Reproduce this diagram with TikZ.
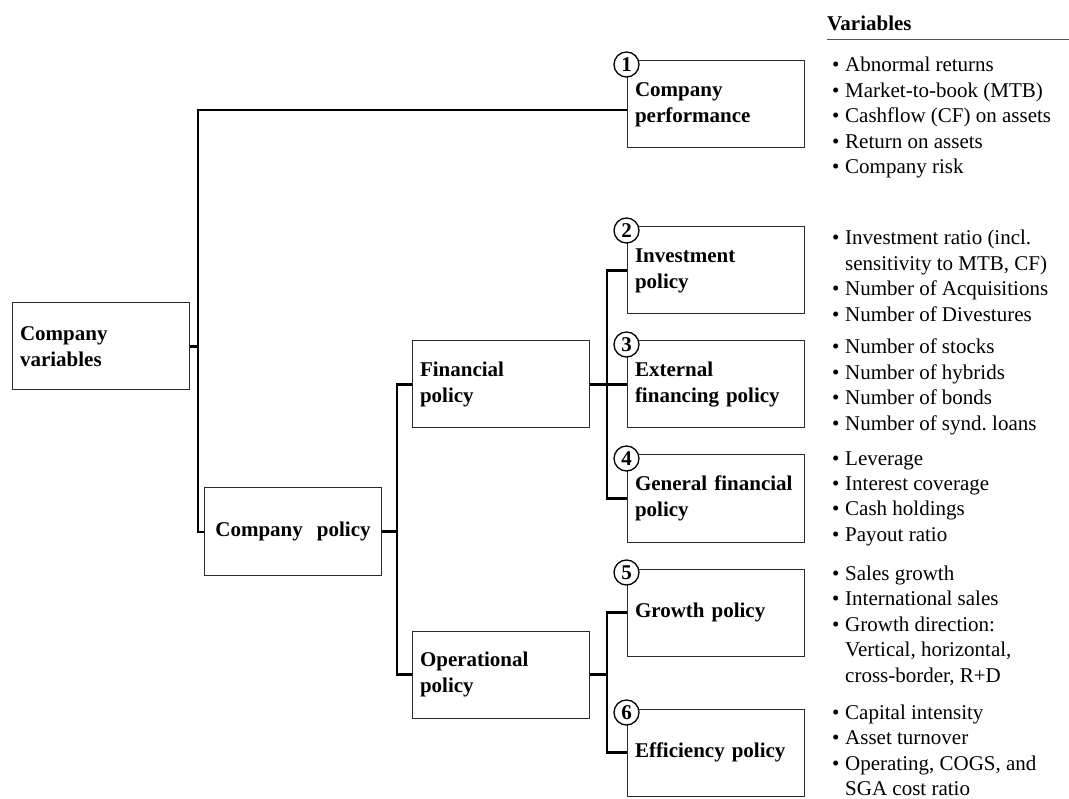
\documentclass[tikz,border=0pt]{standalone}
\usepackage{fontspec}
\setmainfont{Liberation Serif}
\usetikzlibrary{positioning,calc}
\definecolor{ink}{HTML}{000000}
\definecolor{edge}{HTML}{2B2B2B}
\definecolor{rule}{HTML}{555555}
\newcommand{\itm}{\makebox[13pt][l]{\textbullet}}
\newcommand{\cont}{\hspace*{13pt}}

\begin{document}
\begin{tikzpicture}[x=1pt,y=-1pt,
  box/.style={draw=edge,line width=1pt,fill=white,minimum width=177pt,minimum height=87pt,inner xsep=8pt,text width=161pt,align=left,font=\fontsize{21}{26}\selectfont\bfseries},
  num/.style={circle,draw=ink,line width=1.3pt,fill=white,minimum size=25pt,inner sep=0pt,font=\fontsize{21}{21}\selectfont\bfseries},
  conn/.style={ink,line width=2.8pt},
  vlist/.style={anchor=base west,inner sep=0pt,align=left,font=\fontsize{21}{25.5}\selectfont}]
\useasboundingbox (0,0) rectangle (1069,799);

% tree boxes
\node[box] (cv) at (100.5,346.5){Company\\variables};
\node[box,align=center] (cp) at (293,531.5){Company~~policy};
\node[box] (fin) at (500.5,384.5){Financial\\policy};
\node[box] (op) at (500.5,674.5){Operational\\policy};
\node[box] (perf) at (715.5,104.5){Company\\performance};
\node[box] (inv) at (715.5,270.5){Investment\\policy};
\node[box] (ext) at (715.5,384.5){External\\financing policy};
\node[box] (gen) at (715.5,498.5){General financial\\policy};
\node[box] (gro) at (715.5,612.5){Growth policy};
\node[box] (eff) at (715.5,752.5){Efficiency policy};

% connectors
\coordinate (t1) at (198,110);
\coordinate (t2) at (198,532);
\coordinate (t3) at (397,0);
\coordinate (t4) at (607,0);
\draw[conn] (perf.west |- t1) -- (t1) -- (t2) -- (cp.west |- t2);
\draw[conn] (cv.east) -- (cv.east -| t1);
\draw[conn] (cp.east) -- (cp.east -| t3);
\draw[conn] (fin.west) -- (fin.west -| t3) -- (op.west -| t3) -- (op.west);
\draw[conn] (fin.east) -- (ext.west);
\draw[conn] (inv.west) -- (inv.west -| t4) -- (gen.west -| t4) -- (gen.west);
\draw[conn] (op.east) -- (op.east -| t4);
\draw[conn] (gro.west) -- (gro.west -| t4) -- (eff.west -| t4) -- (eff.west);

% numbers
\node[num,yshift=-4pt] (n1) at (perf.north west){1};
\node[num,yshift=-4pt] (n2) at (inv.north west){2};
\node[num,yshift=-4pt] (n3) at (ext.north west){3};
\node[num,yshift=-4pt] (n4) at (gen.north west){4};
\node[num,yshift=-4pt] (n5) at (gro.north west){5};
\node[num,yshift=-4pt] (n6) at (eff.north west){6};

% variables column (placed by the baseline of the last line)
\node[anchor=base west,inner sep=0pt,font=\fontsize{21}{25}\selectfont\bfseries] (vars) at (827,31){Variables};
\coordinate (rr) at (1069,40);
\draw[rule,line width=1pt] (vars.base west |- rr) -- (rr);

\node[vlist] (v1) at (832,174){\itm Abnormal returns\\\itm Market-to-book (MTB)\\\itm Cashflow (CF) on assets\\\itm Return on assets\\\itm Company risk};
\node[vlist] (v2) at (832,321.5){\itm Investment ratio (incl.\\\cont sensitivity to MTB, CF)\\\itm Number of Acquisitions\\\itm Number of Divestures};
\node[vlist] (v3) at (832,430.5){\itm Number of stocks\\\itm Number of hybrids\\\itm Number of bonds\\\itm Number of synd.\ loans};
\node[vlist] (v4) at (832,541.5){\itm Leverage\\\itm Interest coverage\\\itm Cash holdings\\\itm Payout ratio};
\node[vlist] (v5) at (832,682){\itm Sales growth\\\itm International sales\\\itm Growth direction:\\\cont Vertical, horizontal,\\\cont cross-border, R+D};
\node[vlist] (v6) at (832,795.5){\itm Capital intensity\\\itm Asset turnover\\\itm Operating, COGS, and\\\cont SGA cost ratio};
\end{tikzpicture}
\end{document}
